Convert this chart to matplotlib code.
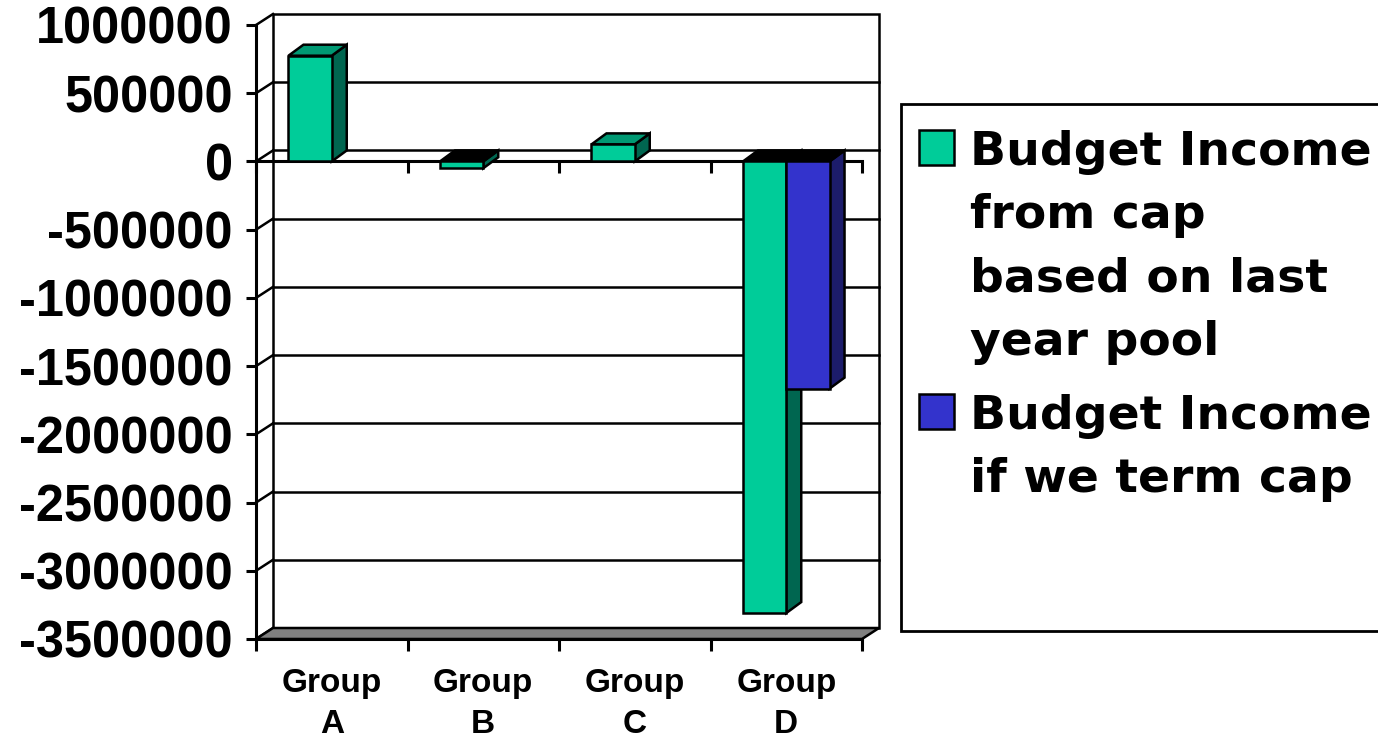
import numpy as np
import matplotlib
matplotlib.use("Agg")
import matplotlib.pyplot as plt
from matplotlib.patches import Polygon, Rectangle
from matplotlib.markers import TICKDOWN

# ── data ─────────────────────────────────────────────────────────────
groups = ["Group\nA", "Group\nB", "Group\nC", "Group\nD"]
series_names = ["Budget Income\nfrom cap\nbased on last\nyear pool",
                "Budget Income\nif we term cap"]
income_from_cap = [775000, -50000, 125000, -3310000]
income_term_cap = [0, 0, 0, -1665000]
y_ticks = [1000000, 500000, 0, -500000, -1000000, -1500000,
           -2000000, -2500000, -3000000, -3500000]

series = [income_from_cap, income_term_cap]

# ── styling ──────────────────────────────────────────────────────────
FRONT = ["#00CC99", "#3333CC"]
SIDE = ["#006650", "#1C1C6B"]
TOP = ["#009973", "#26269A"]
NEG_TOP = "#000000"
FLOOR = "#808080"
LW = 1.8

W, H = 1378, 744
fig = plt.figure(figsize=(W / 100, H / 100), dpi=100)
fig.patch.set_facecolor("white")


def px(x, y):
    """pixel position (from top-left) -> figure fraction"""
    return x / W, 1 - y / H


# front plane of the 3-D box
ax_l, ax_r, ax_t, ax_b = 256, 862, 25, 639
ax = fig.add_axes([ax_l / W, 1 - ax_b / H, (ax_r - ax_l) / W, (ax_b - ax_t) / H])

n = len(groups)
ymin, ymax = y_ticks[-1], y_ticks[0]
ax.set_xlim(0, n)
ax.set_ylim(ymin, ymax)

# depth offsets, pixels -> data units
ux = n / (ax_r - ax_l)
uy = (ymax - ymin) / (ax_b - ax_t)
wall_dx, bar_dx, dy = 17 * ux, 15 * ux, 11 * uy

# ── walls and floor ──────────────────────────────────────────────────
ax.add_patch(Rectangle((wall_dx, ymin + dy), n, ymax - ymin, fc="white",
                       ec="black", lw=LW, zorder=0.5, clip_on=False))
ax.add_patch(Polygon([(0, ymin), (wall_dx, ymin + dy), (wall_dx, ymax + dy), (0, ymax)],
                     closed=True, fc="white", ec="none", zorder=0.4, clip_on=False))
ax.add_patch(Polygon([(0, ymin), (n, ymin), (n + wall_dx, ymin + dy), (wall_dx, ymin + dy)],
                     closed=True, fc=FLOOR, ec="black", lw=LW, zorder=1, clip_on=False))

for t in y_ticks:
    if ymin < t < ymax:
        ax.plot([wall_dx, n + wall_dx], [t + dy, t + dy], color="black",
                lw=LW, zorder=0.8, clip_on=False)
    ax.plot([0, wall_dx], [t, t + dy], color="black", lw=LW, zorder=0.8, clip_on=False)

# category axis crossing at zero
ax.plot(np.arange(n + 1), np.zeros(n + 1), color="black", lw=2.2,
        marker=TICKDOWN, ms=8.5, mew=2.2, zorder=2, clip_on=False)

# ── bars ─────────────────────────────────────────────────────────────
gap = 1.5
bw = 1 / (len(series) + gap)
for s, vals in enumerate(series):
    vals = np.asarray(vals, dtype=float)
    lefts = np.arange(n) + gap * bw / 2 + s * bw
    keep = vals != 0
    z = 4 + 2 * s
    for x0, v in zip(lefts[keep], vals[keep]):
        x1 = x0 + bw
        ax.add_patch(Polygon([(x1, 0), (x1 + bar_dx, dy), (x1 + bar_dx, v + dy), (x1, v)],
                             closed=True, fc=SIDE[s], ec="black", lw=LW, zorder=z))
        top_y = v if v > 0 else 0
        ax.add_patch(Polygon([(x0, top_y), (x0 + bar_dx, top_y + dy),
                              (x1 + bar_dx, top_y + dy), (x1, top_y)],
                             closed=True, fc=TOP[s] if v > 0 else NEG_TOP,
                             ec="black", lw=LW, zorder=z))
    ax.bar(lefts[keep], vals[keep], bw, align="edge", color=FRONT[s],
           edgecolor="black", lw=LW, zorder=z + 1)

# ── axes ─────────────────────────────────────────────────────────────
for side in ("top", "right"):
    ax.spines[side].set_visible(False)
for side in ("left", "bottom"):
    ax.spines[side].set_linewidth(2.2)
    ax.spines[side].set_zorder(3)

ax.set_yticks(y_ticks, labels=[str(t) for t in y_ticks])
ax.tick_params(axis="y", length=7.2, width=2.2, pad=9.4)
for lbl in ax.get_yticklabels():
    lbl.set_fontfamily("Liberation Sans")
    lbl.set_fontweight("bold")
    lbl.set_fontsize(36.4)

ax.set_xticks(np.arange(n) + 0.5, labels=groups)
ax.set_xticks(np.arange(n + 1), minor=True)
ax.tick_params(axis="x", which="major", length=0, pad=21)
ax.tick_params(axis="x", which="minor", length=8.6, width=2.2, direction="out")
for lbl in ax.get_xticklabels():
    lbl.set_fontfamily("Liberation Sans")
    lbl.set_fontweight("bold")
    lbl.set_fontsize(24)
    lbl.set_linespacing(1.4)

# ── legend ───────────────────────────────────────────────────────────
lx, ly = px(901, 631)
fig.add_artist(Rectangle((lx, ly), 1.0, (631 - 104) / H, transform=fig.transFigure,
                         fc="white", ec="black", lw=2, clip_on=False))
first_baselines = [165, 429]
line_step = 63.3
for s, name in enumerate(series_names):
    b0 = first_baselines[s]
    sx, sy = px(919, b0)
    fig.add_artist(Rectangle((sx, sy), 35 / W, 35 / H, transform=fig.transFigure,
                             fc=FRONT[s], ec="black", lw=1.8))
    for k, line in enumerate(name.split("\n")):
        tx, ty = px(970, b0 + k * line_step)
        fig.text(tx, ty, line, ha="left", va="baseline", fontsize=34,
                 fontweight="bold", family="DejaVu Sans")

fig.savefig("out.png", dpi=100)
